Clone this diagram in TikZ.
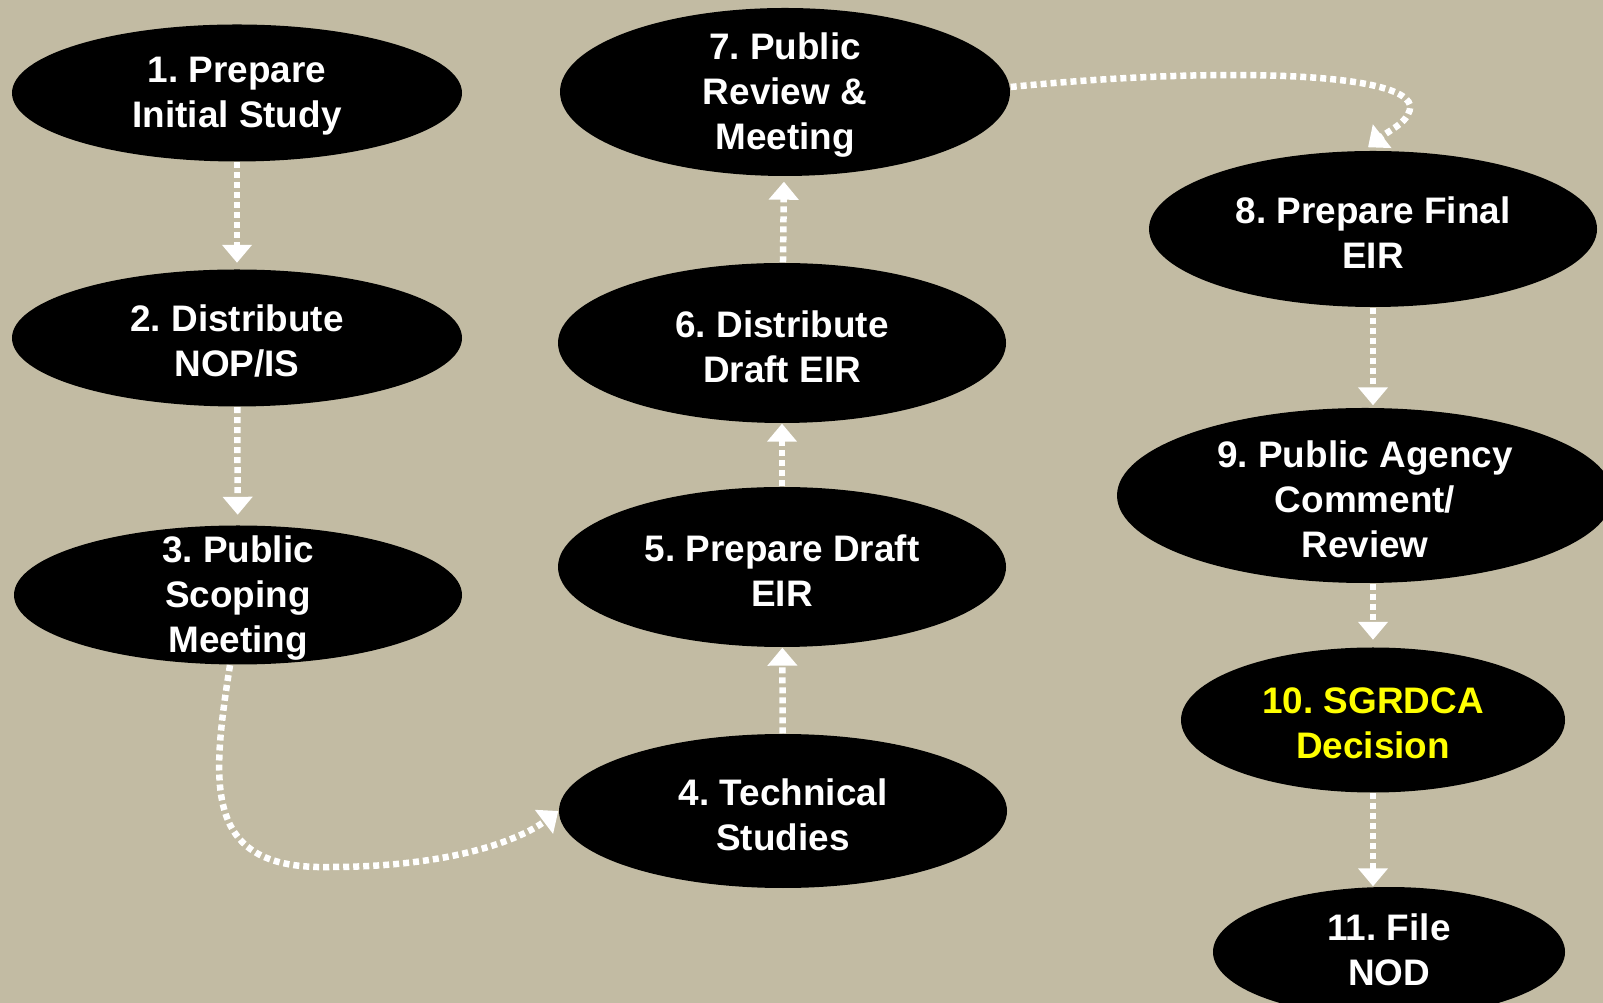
\documentclass[tikz,border=0pt]{standalone}
\usepackage{fontspec}
\setmainfont{Liberation Sans}
\usetikzlibrary{shapes.geometric,arrows.meta}
\definecolor{bgtan}{RGB}{194,187,163}
\definecolor{stepyellow}{RGB}{255,255,0}
\frenchspacing

\begin{document}
\begin{tikzpicture}[
  stage/.style={ellipse, fill=black, inner sep=0pt},
  txt/.style={text=white, align=center, yshift=-0.035cm,
    font=\fontsize{10.5}{12.8}\selectfont\bfseries},
  flow/.style={draw=white, line width=0.065cm, dash pattern=on 0.06cm off 0.04cm,
    -{Triangle[width=0.29cm,length=0.18cm]}}
]

\useasboundingbox (0,0) rectangle (16.03,-10.03);
\fill [bgtan] (0,0) rectangle (16.03,-10.03);

\node [stage, minimum width=4.50cm, minimum height=1.37cm,
  label={[txt]center:{1. Prepare\\Initial Study}}] (n1) at (2.37,-0.93) {};
\node [stage, minimum width=4.50cm, minimum height=1.37cm,
  label={[txt]center:{2. Distribute\\NOP/IS}}] (n2) at (2.37,-3.38) {};
\node [stage, minimum width=4.48cm, minimum height=1.39cm,
  label={[txt]center:{3. Public\\Scoping\\Meeting}}] (n3) at (2.38,-5.95) {};
\node [stage, minimum width=4.48cm, minimum height=1.54cm,
  label={[txt]center:{4. Technical\\Studies}}] (n4) at (7.83,-8.11) {};
\node [stage, minimum width=4.48cm, minimum height=1.60cm,
  label={[txt]center:{5. Prepare Draft\\EIR}}] (n5) at (7.82,-5.67) {};
\node [stage, minimum width=4.48cm, minimum height=1.60cm,
  label={[txt]center:{6. Distribute\\Draft EIR}}] (n6) at (7.82,-3.43) {};
\node [stage, minimum width=4.50cm, minimum height=1.68cm,
  label={[txt]center:{7. Public\\Review \&\\Meeting}}] (n7) at (7.85,-0.92) {};
\node [stage, minimum width=4.48cm, minimum height=1.56cm,
  label={[txt]center:{8. Prepare Final\\EIR}}] (n8) at (13.73,-2.29) {};
\node [stage, minimum width=4.96cm, minimum height=1.75cm,
  label={[txt]center:{9. Public Agency\\Comment/\\Review}}] (n9) at (13.65,-4.955) {};
\node [stage, minimum width=3.84cm, minimum height=1.45cm,
  label={[txt,text=stepyellow]center:{10. SGRDCA\\Decision}}] (n10) at (13.73,-7.20) {};
\node [stage, minimum width=3.52cm, minimum height=1.30cm,
  label={[txt,yshift=0.06cm]center:{11. File\\NOD}}] (n11) at (13.89,-9.52) {};

\draw [flow, shorten >=0.06cm] (n1) -- (n2);
\draw [flow, shorten >=0.10cm] (n2) -- (n3);
\draw [flow] ([xshift=-0.08cm]n3.south) .. controls (2.10,-7.90) and (2.05,-8.70) .. (3.30,-8.67)
  .. controls (4.50,-8.67) and (5.20,-8.40) .. (n4.west);
\draw [flow] (n4) -- (n5);
\draw [flow] (n5) -- (n6);
\draw [flow, shorten >=0.05cm] (n6) -- (n7);
\draw [flow] ([yshift=0.05cm]n7.east) .. controls (12.00,-0.68) and (14.00,-0.70) .. (14.10,-1.05)
  .. controls (14.12,-1.20) and (13.90,-1.30) .. ([xshift=-0.05cm,yshift=0.03cm]n8.north);
\draw [flow, shorten >=0.02cm] (n8) -- (n8 |- n9.north);
\draw [flow, shorten >=0.07cm] (n10 |- n9.south) -- (n10);
\draw [flow] (n10) -- (n10 |- n11.north);

\end{tikzpicture}
\end{document}
